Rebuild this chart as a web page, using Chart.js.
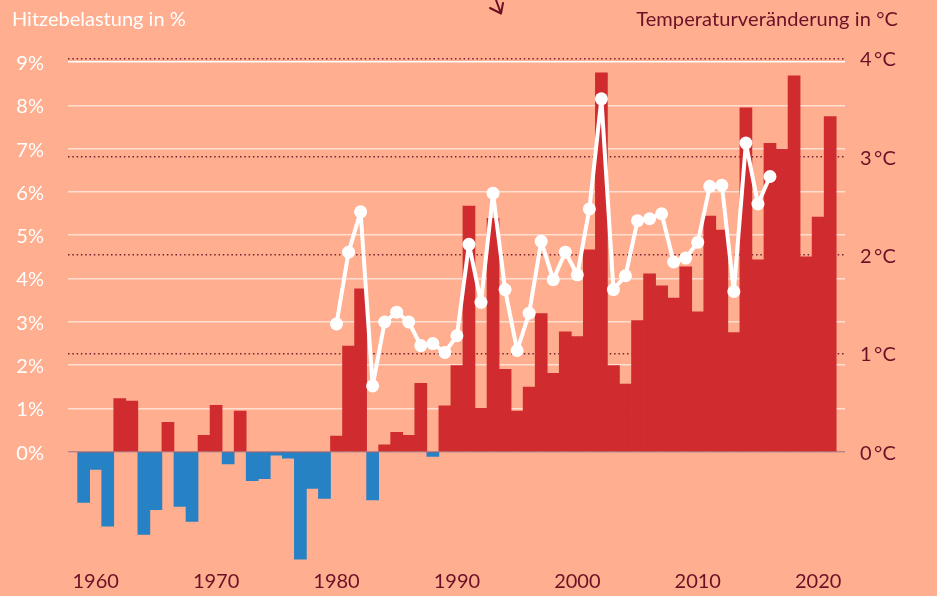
<!DOCTYPE html>
<html lang="de">
<head>
<meta charset="utf-8">
<title>Hitzebelastung und Temperaturveränderung</title>
<script src="https://cdn.jsdelivr.net/npm/chart.js@4/dist/chart.umd.min.js"></script>
<style>
    html, body { margin: 0; padding: 0; background: #FFAE8F; }
    #wrap { position: relative; width: 937px; height: 596px; overflow: hidden; }
    canvas { position: absolute; left: 0; top: 0; }
    .head { position: absolute; top: 6px; font: 20px Lato, sans-serif; line-height: 24px; white-space: nowrap; }
    #headLeft { left: 12px; color: #ffffff; }
    #headRight { right: 39px; color: #6B1127; letter-spacing: 0.1px; }
    #arrow { position: absolute; left: 484px; top: 0; }
</style>
</head>
<body>
<div id="wrap">
    <canvas id="myChart" width="937" height="596"></canvas>
    <div class="head" id="headLeft">Hitzebelastung in %</div>
    <div class="head" id="headRight">Temperaturveränderung in °C</div>
    <svg id="arrow" width="24" height="18" viewBox="0 0 24 18">
        <path d="M12 0 L17 13.5 M6 8 L17 13.5 L19 3" fill="none" stroke="#6B1127" stroke-width="2" stroke-linecap="round" stroke-linejoin="round"/>
    </svg>
</div>
<script>
'use strict';

// years (one bar per year)
const years = [
    1959, 1960, 1961, 1962, 1963, 1964, 1965, 1966, 1967, 1968, 1969,
    1970, 1971, 1972, 1973, 1974, 1975, 1976, 1977, 1978, 1979,
    1980, 1981, 1982, 1983, 1984, 1985, 1986, 1987, 1988, 1989,
    1990, 1991, 1992, 1993, 1994, 1995, 1996, 1997, 1998, 1999,
    2000, 2001, 2002, 2003, 2004, 2005, 2006, 2007, 2008, 2009,
    2010, 2011, 2012, 2013, 2014, 2015, 2016, 2017, 2018, 2019,
    2020, 2021
];

// Hitzebelastung in % (bars)
const heatLoad = [
    -1.17, -0.41, -1.72, 1.23, 1.17, -1.91, -1.34, 0.68, -1.26, -1.61, 0.38,
    1.07, -0.28, 0.94, -0.67, -0.62, -0.08, -0.15, -2.48, -0.85, -1.08,
    0.36, 2.44, 3.76, -1.11, 0.16, 0.45, 0.38, 1.58, -0.11, 1.06,
    1.99, 5.67, 1.00, 5.39, 1.90, 0.94, 1.49, 3.19, 1.81, 2.77,
    2.66, 4.66, 8.75, 1.99, 1.56, 3.03, 4.11, 3.83, 3.55, 4.27,
    3.23, 5.44, 5.12, 2.75, 7.94, 4.43, 7.12, 6.99, 8.68, 4.50,
    5.42, 7.74
];

// Temperaturveränderung in °C (line, 1980-2016)
const tempChange = [
    null, null, null, null, null, null, null, null, null, null, null,
    null, null, null, null, null, null, null, null, null, null,
    1.30, 2.03, 2.44, 0.67, 1.32, 1.42, 1.32, 1.08, 1.10, 1.01,
    1.18, 2.11, 1.52, 2.63, 1.65, 1.03, 1.41, 2.14, 1.75, 2.03,
    1.80, 2.47, 3.59, 1.65, 1.79, 2.35, 2.37, 2.42, 1.93, 1.97,
    2.13, 2.70, 2.71, 1.63, 3.14, 2.52, 2.80, null, null, null,
    null, null
];

const yearTicks = [1960, 1970, 1980, 1990, 2000, 2010, 2020];
const percentTicks = [0, 1, 2, 3, 4, 5, 6, 7, 8, 9];
const degreeTicks = [0, 1, 2, 3, 4];

const colorRed = '#D02B2E';
const colorBlue = '#2681C5';
const colorDark = '#6B1127';
const fontMain = { family: 'Lato, sans-serif', size: 20 };

/*zero line above the bars*/

const zeroLine = {
    id: 'zeroLine',
    afterDatasetsDraw(chart) {
        const ctx = chart.ctx;
        const area = chart.chartArea;
        const y = chart.scales.y.getPixelForValue(0);
        ctx.save();
        ctx.strokeStyle = 'rgba(110, 10, 30, 0.45)';
        ctx.lineWidth = 1.5;
        ctx.beginPath();
        ctx.moveTo(area.left, y);
        ctx.lineTo(area.right, y);
        ctx.stroke();
        ctx.restore();
    }
};

const ctx = document.getElementById('myChart').getContext('2d');

const chart = new Chart(ctx, {
    type: 'bar',
    data: {
        datasets: [
            {
                type: 'line',
                data: years.map((year, i) => ({ x: year, y: tempChange[i] })),
                yAxisID: 'y1',
                borderColor: '#ffffff',
                borderWidth: 4,
                borderJoinStyle: 'round',
                borderCapStyle: 'round',
                pointRadius: 6.5,
                pointBackgroundColor: '#ffffff',
                pointBorderColor: '#ffffff',
                pointBorderWidth: 0,
                tension: 0,
                spanGaps: false,
                order: 0
            },
            {
                data: years.map((year, i) => ({ x: year, y: heatLoad[i] })),
                yAxisID: 'y',
                backgroundColor: heatLoad.map(v => v < 0 ? colorBlue : colorRed),
                borderWidth: 0,
                barPercentage: 1,
                categoryPercentage: 1,
                order: 1
            }
        ]
    },
    options: {
        responsive: false,
        devicePixelRatio: 1,
        animation: false,
        layout: { padding: { top: 58.5, left: 0, right: 0, bottom: 0 } },
        plugins: {
            legend: { display: false },
            tooltip: { enabled: false }
        },
        scales: {
            x: {
                type: 'linear',
                min: 1957.7,
                max: 2022.23,
                offset: false,
                grid: { display: false, offset: false, drawTicks: false },
                border: { display: false },
                afterBuildTicks: (axis) => { axis.ticks = yearTicks.map(v => ({ value: v })); },
                afterFit: (axis) => { axis.height = 33.5; },
                ticks: {
                    color: colorDark,
                    font: fontMain,
                    padding: 10,
                    maxRotation: 0,
                    callback: (v) => String(v)
                }
            },
            y: {
                position: 'left',
                min: -2.5,
                max: 9.08,
                grid: {
                    drawTicks: false,
                    lineWidth: 1.5,
                    color: (c) => c.tick && c.tick.value === 9 ? '#ffffff' : 'rgba(255, 255, 255, 0.6)'
                },
                border: { display: false },
                afterBuildTicks: (axis) => { axis.ticks = percentTicks.map(v => ({ value: v })); },
                afterFit: (axis) => { axis.width = 68; },
                ticks: {
                    color: '#ffffff',
                    font: fontMain,
                    padding: 24,
                    labelOffset: 1.5,
                    callback: (v) => v + '%'
                }
            },
            y1: {
                position: 'right',
                min: -1.101,
                max: 4,
                grid: {
                    drawTicks: false,
                    lineWidth: 1.5,
                    color: (c) => c.tick && c.tick.value === 0 ? 'rgba(0, 0, 0, 0)' : 'rgba(107, 17, 39, 0.9)'
                },
                border: { display: false, dash: [1.5, 2.8] },
                afterBuildTicks: (axis) => { axis.ticks = degreeTicks.map(v => ({ value: v })); },
                afterFit: (axis) => { axis.width = 92; },
                ticks: {
                    color: colorDark,
                    font: fontMain,
                    padding: 15,
                    labelOffset: 1.5,
                    callback: (v) => v + '\u2009°C'
                }
            }
        }
    },
    plugins: [zeroLine]
});
</script>
</body>
</html>
